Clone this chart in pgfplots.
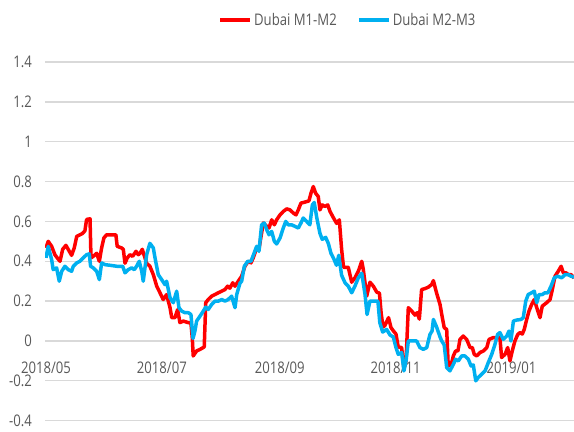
\documentclass[border=0pt]{standalone}
\usepackage{fontspec}
\setmainfont{Open Sans}[FakeStretch=0.82]
\usepackage{pgfplots}
\pgfplotsset{compat=1.18}
\definecolor{cred}{HTML}{FF0000}
\definecolor{cblue}{HTML}{00B0F0}
\definecolor{tgrey}{HTML}{595959}
\definecolor{ggrey}{HTML}{D9D9D9}
\newcommand\lblfont{\fontsize{16bp}{19bp}\selectfont}
\begin{document}
\begin{tikzpicture}
\useasboundingbox (-45bp,-11.3bp) rectangle (529bp,420.7bp);
\begin{axis}[
  at={(0,0)}, anchor=south west,
  scale only axis, width=529bp, height=358.7bp,
  xmin=-0.5, xmax=277.9, ymin=-0.4, ymax=1.4,
  axis line style={draw=none},
  major tick length=0pt,
  ytick={-0.4,-0.2,0,0.2,0.4,0.6,0.8,1,1.2,1.4},
  yticklabels={-0.4,-0.2,0,0.2,0.4,0.6,0.8,1,1.2,1.4},
  xtick={0,61,123,184,245},
  xticklabels={2018/05,2018/07,2018/09,2018/11,2019/01},
  ymajorgrids, grid style={ggrey, line width=1.3bp},
  tick label style={font=\lblfont, text=tgrey},
  yticklabel style={anchor=east, inner sep=0pt, xshift=-13bp},
  xticklabel style={anchor=base, yshift=46.7bp},
  legend columns=2,
  legend image code/.code={\draw[#1,line width=4bp] (0bp,0bp) -- (30bp,0bp);},
  legend style={at={(0.327,1.117)}, anchor=west, draw=none, fill=none,
    font=\lblfont, text=tgrey, inner sep=0pt,
    /tikz/every even column/.append style={column sep=18bp}},
  every axis plot/.append style={line width=3.5bp, line join=round, no marks},
]
\addplot[cred] coordinates {
(0,0.467)(1.2,0.50)(3.0,0.475)(4.7,0.433)(6.5,0.41)(7.4,0.40)(8.8,0.46)(10.5,0.48)
(12.3,0.45)(13.5,0.43)(14.9,0.467)(16.2,0.525)(17.9,0.533)(19.3,0.54)(20.5,0.553)
(21.4,0.61)(23.2,0.613)(23.7,0.417)(24.9,0.425)(26.7,0.44)(28.1,0.40)(29.3,0.467)
(30.5,0.517)(31.9,0.533)(35.4,0.533)(36.8,0.533)(37.5,0.475)(39.8,0.467)(40.7,0.46)
(41.6,0.39)(42.8,0.417)(44.2,0.433)(45.6,0.425)(47.4,0.45)(48.6,0.433)(49.5,0.44)
(50.7,0.46)(53.0,0.39)(54.7,0.375)(56.5,0.333)(58.3,0.275)(60.0,0.242)(61.7,0.208)
(63.5,0.233)(65.3,0.167)(66.2,0.117)(67.9,0.117)(69.3,0.158)(70.5,0.092)(72.3,0.10)
(74.9,0.092)(76.3,0.09)(77.0,0.017)(77.5,-0.075)(79.3,-0.05)(81.1,-0.042)(83.3,-0.03)
(84.1,0.192)(85.4,0.208)(87.2,0.225)(88.9,0.233)(90.7,0.242)(92.5,0.25)(94.2,0.258)
(95.6,0.275)(96.8,0.265)(98.3,0.292)(99.5,0.275)(101.2,0.30)(103.0,0.325)(104.7,0.375)
(106.5,0.40)(107.9,0.392)(109.1,0.417)(110.9,0.467)(112.1,0.46)(113.2,0.525)(114.4,0.592)
(116.2,0.575)(117.4,0.567)(118.8,0.608)(120.2,0.583)(121.4,0.608)(123.2,0.633)(124.9,0.65)
(126.7,0.663)(128.4,0.658)(130.2,0.642)(131.6,0.633)(132.8,0.658)(134.2,0.692)(136.3,0.697)
(138.4,0.703)(139.5,0.742)(140.7,0.775)(141.9,0.742)(143.3,0.725)(144.2,0.658)(145.4,0.683)
(146.8,0.675)(148.3,0.683)(149.5,0.65)(151.2,0.62)(153.0,0.59)(154.4,0.608)(155.6,0.46)
(156.6,0.37)(159.1,0.37)(160.9,0.295)(162.6,0.317)(164.4,0.35)(166.2,0.40)(167.0,0.36)
(168.8,0.225)(170.5,0.295)(172.3,0.275)(174.1,0.245)(175.5,0.24)(176.4,0.14)(177.4,0.07)
(178.4,0.078)(180.3,0.117)(181.6,0.067)(182.9,0.05)(184.2,0.035)(185.4,-0.03)(187.2,-0.033)
(188.4,-0.14)(189.5,-0.10)(190.7,0.167)(192.5,0.15)(194.2,0.13)(195.4,0.142)(196.5,0.11)
(197.7,0.258)(199.5,0.263)(201.2,0.27)(203.0,0.283)(203.9,0.303)(205.6,0.24)(207.4,0.183)
(208.3,0.133)(209.6,0.067)(210.9,0.058)(211.7,-0.125)(213.2,-0.12)(214.4,-0.075)(215.6,-0.05)
(216.8,-0.05)(217.9,0.008)(219.6,0.025)(221.4,0.008)(223.2,-0.033)(224.4,-0.033)(225.4,-0.067)
(226.7,-0.075)(228.4,-0.058)(230.2,-0.05)(232.0,-0.033)(233.2,0.008)(235.4,0.017)(237.2,0.017)
(238.9,0.017)(239.8,-0.083)(241.6,-0.067)(243.0,-0.033)(244.2,-0.10)(245.4,-0.05)(246.8,0.0)
(248.3,0.033)(249.5,0.042)(250.7,0.035)(251.7,0.058)(253.0,0.108)(254.2,0.15)(255.6,0.183)
(257.0,0.208)(258.3,0.167)(260.0,0.117)(261.2,0.175)(263.5,0.192)(265.3,0.208)(266.5,0.258)
(267.9,0.325)(269.6,0.35)(271.1,0.375)(272.3,0.342)(273.7,0.342)(274.9,0.333)(276.3,0.333)
(277.9,0.317)
};
\addlegendentry{Dubai M1-M2}
\addplot[cblue] coordinates {
(0,0.417)(1.2,0.475)(3.0,0.408)(3.8,0.358)(5.6,0.367)(7.0,0.30)(8.3,0.35)(10.0,0.375)
(11.7,0.358)(13.5,0.35)(14.4,0.375)(16.2,0.392)(17.9,0.40)(19.6,0.417)(21.4,0.433)
(22.8,0.437)(23.5,0.375)(24.9,0.367)(26.7,0.35)(28.1,0.308)(29.3,0.392)(31.1,0.383)
(33.7,0.38)(37.2,0.375)(40.4,0.375)(41.6,0.342)(43.3,0.358)(45.1,0.367)(46.5,0.358)
(47.7,0.375)(49.1,0.40)(50.4,0.35)(51.2,0.30)(53.0,0.433)(54.7,0.49)(56.5,0.467)
(57.4,0.417)(59.1,0.333)(60.9,0.308)(62.6,0.283)(63.5,0.30)(65.3,0.217)(67.0,0.192)
(68.8,0.25)(70.0,0.167)(71.4,0.15)(73.2,0.142)(74.9,0.142)(76.3,0.133)(77.4,0.013)
(78.4,0.05)(79.3,0.10)(81.1,0.125)(82.8,0.15)(84.1,0.17)(85.4,0.158)(87.2,0.183)
(88.9,0.20)(90.7,0.20)(92.5,0.208)(94.2,0.20)(95.9,0.208)(97.7,0.225)(99.5,0.167)
(100.4,0.233)(102.1,0.29)(103.0,0.30)(104.4,0.375)(106.2,0.40)(107.9,0.40)(109.6,0.442)
(110.9,0.475)(112.1,0.45)(113.5,0.583)(114.9,0.592)(116.2,0.558)(117.4,0.533)(118.8,0.55)
(120.2,0.50)(121.4,0.487)(123.2,0.517)(124.9,0.567)(126.2,0.60)(127.5,0.583)(129.3,0.583)
(131.1,0.575)(132.8,0.567)(134.2,0.592)(135.4,0.617)(137.2,0.60)(138.9,0.583)(140.2,0.683)
(141.2,0.695)(142.5,0.62)(144.2,0.54)(145.4,0.51)(147.2,0.52)(148.6,0.49)(150.0,0.44)
(151.6,0.41)(152.9,0.38)(154.1,0.43)(155.6,0.33)(157.4,0.292)(159.1,0.275)(160.9,0.242)
(162.6,0.275)(164.4,0.317)(166.2,0.34)(167.9,0.235)(169.0,0.133)(170.5,0.20)(172.3,0.20)
(174.7,0.20)(175.7,0.092)(177.2,0.045)(179.3,0.058)(181.1,0.03)(182.8,0.02)(184.2,-0.033)
(185.4,-0.067)(187.2,-0.058)(188.4,-0.15)(189.5,-0.10)(190.7,0.0)(193.0,0.0)(195.1,0.0)
(196.8,-0.033)(198.6,-0.042)(200.4,-0.033)(202.1,0.033)(203.2,0.05)(203.9,0.108)(205.6,0.07)
(207.4,0.02)(208.3,0.0)(209.6,-0.02)(210.9,-0.133)(212.6,-0.15)(214.4,-0.117)(215.6,-0.092)
(217.0,-0.10)(218.8,-0.075)(220.5,-0.075)(222.3,-0.092)(223.7,-0.125)(224.9,-0.12)(226.2,-0.20)
(227.5,-0.183)(229.3,-0.167)(231.1,-0.15)(232.8,-0.108)(234.6,-0.067)(236.3,-0.017)(237.7,0.033)
(238.9,0.042)(240.7,0.008)(242.5,0.025)(243.7,0.05)(244.7,0.0)(246.0,0.10)(247.7,0.105)
(250.0,0.108)(251.2,0.117)(252.5,0.20)(253.8,0.233)(255.6,0.242)(257.0,0.25)(258.3,0.192)
(259.5,0.233)(261.2,0.233)(262.6,0.242)(264.2,0.242)(265.8,0.275)(267.5,0.317)(269.3,0.325)
(271.4,0.317)(273.2,0.333)(274.9,0.333)(276.3,0.325)(277.9,0.32)
};
\addlegendentry{Dubai M2-M3}
\end{axis}
\end{tikzpicture}
\end{document}
